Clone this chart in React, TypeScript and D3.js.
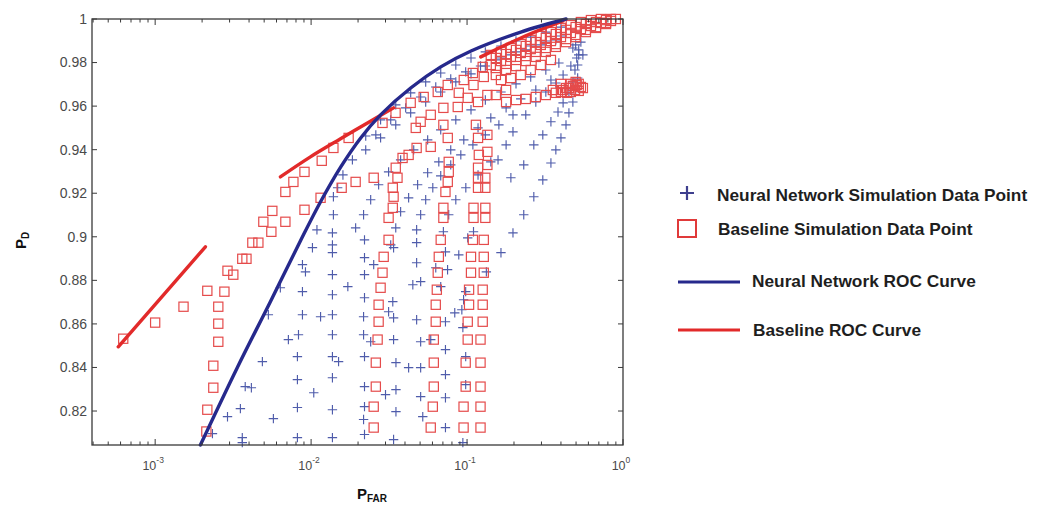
import React from "react";
import * as d3 from "d3";

// ---------- data ----------
const yTickValues = [0.82, 0.84, 0.86, 0.88, 0.9, 0.92, 0.94, 0.96, 0.98, 1];
const yTickLabels = ["0.82", "0.84", "0.86", "0.88", "0.9", "0.92", "0.94", "0.96", "0.98", "1"];
const xTickValues = [1e-3, 1e-2, 1e-1, 1];
const xTickExponents = ["-3", "-2", "-1", "0"];

const legendLabels = [
  "Neural Network Simulation Data Point",
  "Baseline Simulation Data Point",
  "Neural Network ROC Curve",
  "Baseline ROC Curve",
];

// Neural network ROC curve [PFAR, PD]
const nnRocCurve: [number, number][] = [
  [1.95e-3, 0.8044], [3.36e-3, 0.8399], [5.48e-3, 0.8702], [8.55e-3, 0.8982],
  [0.0115, 0.9161], [0.0155, 0.9321], [0.0208, 0.9454], [0.0279, 0.956],
  [0.0435, 0.9683], [0.0678, 0.978], [0.106, 0.9853], [0.221, 0.994], [0.431, 1.0],
];

// Baseline ROC curve (three pieces)
const baseRocPart1: [number, number][] = [[5.8e-4, 0.8495], [2.1e-3, 0.8954]];
const baseRocPart2: [number, number][] = [
  [6.35e-3, 0.9275], [9.9e-3, 0.9367], [0.01545, 0.945], [0.0224, 0.9518], [0.0338, 0.9592],
];
const baseRocPart3: [number, number][] = [[0.1225, 0.9826], [0.2213, 0.9913], [0.412, 0.9991]];

// Neural network simulation data points [PFAR, PD]
const nnSimPoints: [number, number][] = [
  [2.33e-3, 0.8096], [2.91e-3, 0.8174], [3.52e-3, 0.8211], [3.62e-3, 0.8078], [3.62e-3, 0.8055],
  [3.78e-3, 0.8312], [4.14e-3, 0.8307], [4.87e-3, 0.8427], [5.32e-3, 0.8642], [5.73e-3, 0.8165],
  [6.35e-3, 0.8766], [7.15e-3, 0.8528], [8.3e-3, 0.855], [8.17e-3, 0.845], [8.17e-3, 0.8344],
  [8.17e-3, 0.8216], [8.17e-3, 0.8078], [8.8e-3, 0.8872], [9.2e-3, 0.8839], [8.8e-3, 0.8748],
  [8.8e-3, 0.8642], [0.0102, 0.895], [0.0104, 0.8284], [0.0109, 0.9032], [0.0115, 0.8633],
  [0.0137, 0.9018], [0.0137, 0.8963], [0.0137, 0.8927], [0.0137, 0.8826], [0.0137, 0.8734],
  [0.0137, 0.8642], [0.0137, 0.855], [0.0137, 0.845], [0.0137, 0.8353], [0.0137, 0.8206],
  [0.0137, 0.8078], [0.015, 0.8427], [0.0172, 0.8771],
  [0.0193, 0.9041], [0.022, 0.8986], [0.0324, 0.8963], [0.0338, 0.895], [0.0475, 0.9032],
  [0.0475, 0.8973], [0.0705, 0.9023], [0.0727, 0.8931], [0.0885, 0.8917], [0.101, 0.8995],
  [0.11, 0.9023], [0.022, 0.8904], [0.0252, 0.8872], [0.022, 0.8826], [0.0475, 0.8881],
  [0.063, 0.8858], [0.075, 0.8849], [0.022, 0.872], [0.0334, 0.8702], [0.0314, 0.8656],
  [0.0449, 0.878], [0.0504, 0.8794], [0.0678, 0.8771], [0.098, 0.8748], [0.095, 0.8711],
  [0.0217, 0.8633], [0.0338, 0.8628], [0.0475, 0.8619], [0.0727, 0.861], [0.0834, 0.8651],
  [0.0926, 0.8665], [0.094, 0.8583], [0.0217, 0.855], [0.0241, 0.8518], [0.0338, 0.8528],
  [0.0504, 0.8518], [0.0585, 0.8528], [0.0727, 0.8482], [0.098, 0.845], [0.022, 0.845],
  [0.035, 0.8422], [0.0422, 0.8399], [0.0504, 0.8399], [0.0727, 0.8367], [0.022, 0.8312],
  [0.03, 0.8275], [0.035, 0.8298], [0.0504, 0.8266], [0.0727, 0.8261], [0.098, 0.8321],
  [0.022, 0.822], [0.0217, 0.8161], [0.035, 0.8197], [0.052, 0.8174], [0.0727, 0.8124],
  [0.022, 0.8092], [0.0338, 0.8069], [0.094, 0.8055],
  [0.197, 0.9018], [0.165, 0.8927], [0.133, 0.8839],
  [0.231, 0.9101], [0.268, 0.9184], [0.306, 0.9261], [0.345, 0.9339], [0.371, 0.9399],
  [0.4, 0.9454], [0.431, 0.9514], [0.45, 0.9569], [0.477, 0.9619], [0.497, 0.9674],
  [0.512, 0.9729], [0.512, 0.9789], [0.52, 0.9835],
  [0.191, 0.9271], [0.231, 0.933], [0.268, 0.9422], [0.306, 0.9468], [0.345, 0.9528],
  [0.383, 0.9573], [0.413, 0.9615], [0.45, 0.9661], [0.477, 0.9711], [0.492, 0.9766],
  [0.158, 0.9353], [0.178, 0.9422], [0.197, 0.9482], [0.238, 0.956], [0.276, 0.9619],
  [0.32, 0.9665], [0.371, 0.9706], [0.413, 0.9743], [0.463, 0.9784],
  [0.497, 0.9881], [0.52, 0.9858], [0.537, 0.9894], [0.505, 0.9821], [0.477, 0.9867], [0.553, 0.9835],
  [0.0139, 0.9101], [0.0139, 0.9184], [0.0148, 0.9225], [0.016, 0.9284], [0.0184, 0.9353],
  [0.0224, 0.9399], [0.0279, 0.9454], [0.0349, 0.9514], [0.0435, 0.9569], [0.0543, 0.9619],
  [0.0678, 0.9665], [0.0847, 0.9711], [0.106, 0.9748], [0.131, 0.9784], [0.165, 0.9821],
  [0.206, 0.9849], [0.256, 0.9876], [0.32, 0.9899], [0.4, 0.9922],
  [0.0217, 0.9101], [0.0241, 0.917], [0.0271, 0.9239], [0.0314, 0.9298], [0.0375, 0.9353],
  [0.0455, 0.9399], [0.0559, 0.9445], [0.0678, 0.9491], [0.0847, 0.9537], [0.106, 0.9583],
  [0.131, 0.9628], [0.165, 0.9665], [0.206, 0.9702], [0.256, 0.9734], [0.32, 0.9766], [0.388, 0.9798],
  [0.0349, 0.9041], [0.0375, 0.9115], [0.0422, 0.9179], [0.0482, 0.9239], [0.0559, 0.9294],
  [0.0659, 0.9344], [0.0786, 0.9399], [0.0953, 0.9445], [0.1176, 0.95], [0.142, 0.9546],
  [0.178, 0.9592], [0.221, 0.9633], [0.276, 0.9674], [0.345, 0.972],
  [0.0504, 0.9101], [0.0543, 0.917], [0.0603, 0.9225], [0.0678, 0.928], [0.0786, 0.933],
  [0.0912, 0.9376], [0.109, 0.9422], [0.131, 0.9468], [0.16, 0.9514], [0.197, 0.956],
  [0.0763, 0.9101], [0.0847, 0.917], [0.0982, 0.9225], [0.1176, 0.9284], [0.142, 0.9344],
  [0.0224, 0.9463], [0.0279, 0.9537], [0.0349, 0.9606], [0.0435, 0.9661], [0.0543, 0.9711],
  [0.0678, 0.9752], [0.0847, 0.9789], [0.106, 0.9821], [0.131, 0.9849], [0.165, 0.9876],
  [0.206, 0.9899], [0.256, 0.9917], [0.32, 0.994], [0.4, 0.9963],
  [0.026, 0.9468], [0.0324, 0.9537], [0.0404, 0.9592], [0.0504, 0.9642], [0.063, 0.9688],
  [0.0786, 0.9725], [0.098, 0.9757], [0.122, 0.9784], [0.153, 0.9812], [0.191, 0.9835],
  [0.238, 0.9858], [0.297, 0.9881], [0.371, 0.9904],
];

// Baseline simulation data points [PFAR, PD]
const baseSimPoints: [number, number][] = [
  [6.24e-4, 0.8532], [1.0e-3, 0.8606], [1.52e-3, 0.8679],
  [2.13e-3, 0.8106], [2.16e-3, 0.8206], [2.36e-3, 0.8307], [2.36e-3, 0.8408], [2.54e-3, 0.8518],
  [2.54e-3, 0.8601], [2.54e-3, 0.8679], [2.16e-3, 0.8752], [2.78e-3, 0.8748], [2.91e-3, 0.8844],
  [3.17e-3, 0.8826], [3.62e-3, 0.8899], [3.85e-3, 0.8899], [4.2e-3, 0.8973], [4.59e-3, 0.8973],
  [4.94e-3, 0.9069], [5.56e-3, 0.9023], [5.64e-3, 0.9119], [6.84e-3, 0.9069], [9.07e-3, 0.9124],
  [6.84e-3, 0.9206], [7.7e-3, 0.9252], [9.07e-3, 0.9298], [0.0117, 0.9349], [0.0139, 0.9408],
  [0.0174, 0.9454], [0.0115, 0.9179], [0.0157, 0.9225],
  [0.0193, 0.9252], [0.0252, 0.9271], [0.0287, 0.9523], [0.0348, 0.9569], [0.0435, 0.9615],
  [0.0527, 0.9642], [0.0649, 0.9665], [0.0752, 0.9697], [0.0953, 0.972], [0.109, 0.9752],
  [0.126, 0.978], [0.0885, 0.9661], [0.11, 0.9697], [0.128, 0.9734], [0.101, 0.9638],
  [0.1176, 0.9619], [0.135, 0.9651], [0.0872, 0.9596], [0.0705, 0.9592], [0.0585, 0.956],
  [0.0504, 0.9528], [0.0469, 0.95], [0.0585, 0.9413], [0.0475, 0.9408], [0.0422, 0.9376],
  [0.0386, 0.9362], [0.0349, 0.9317], [0.0358, 0.9271], [0.0334, 0.9225], [0.0338, 0.9184],
  [0.0334, 0.9133], [0.0314, 0.9087],
  [0.0705, 0.9514], [0.0752, 0.9454], [0.0763, 0.9344], [0.0763, 0.9298], [0.0752, 0.9252],
  [0.0727, 0.9206], [0.0705, 0.9133], [0.0705, 0.9087],
  [0.114, 0.9514], [0.1176, 0.9454], [0.119, 0.9376], [0.1176, 0.9317], [0.1176, 0.9271],
  [0.1176, 0.9225], [0.135, 0.9468], [0.135, 0.939], [0.135, 0.933], [0.131, 0.9271],
  [0.131, 0.9225], [0.11, 0.9133], [0.11, 0.9087], [0.131, 0.9133], [0.131, 0.9087],
  [0.0314, 0.8986], [0.0292, 0.8908], [0.0287, 0.8835], [0.0279, 0.8766], [0.0271, 0.8688],
  [0.0271, 0.861], [0.0267, 0.8528], [0.026, 0.8422], [0.026, 0.8312], [0.0252, 0.822], [0.0252, 0.8124],
  [0.0678, 0.8986], [0.0659, 0.8908], [0.0649, 0.8835], [0.064, 0.8757], [0.063, 0.8688],
  [0.063, 0.861], [0.0612, 0.8528], [0.0612, 0.8422], [0.0612, 0.8312], [0.0603, 0.822], [0.0585, 0.8124],
  [0.109, 0.8986], [0.106, 0.8908], [0.106, 0.8835], [0.103, 0.8757], [0.103, 0.8688],
  [0.101, 0.861], [0.101, 0.8528], [0.098, 0.8422], [0.098, 0.8312], [0.095, 0.822], [0.095, 0.8124],
  [0.128, 0.8986], [0.128, 0.8908], [0.128, 0.8835], [0.126, 0.8757], [0.126, 0.8688],
  [0.126, 0.861], [0.122, 0.8528], [0.122, 0.8422], [0.122, 0.8312], [0.122, 0.822], [0.122, 0.8124],
  [0.142, 0.9835], [0.165, 0.9849], [0.191, 0.9867], [0.221, 0.9885], [0.256, 0.9904],
  [0.297, 0.9922], [0.345, 0.994], [0.4, 0.9959], [0.463, 0.9972], [0.537, 0.9986],
  [0.623, 0.9995], [0.722, 1.0], [0.837, 1.0],
  [0.153, 0.9821], [0.178, 0.9839], [0.206, 0.9858], [0.238, 0.9876], [0.276, 0.9894],
  [0.32, 0.9913], [0.371, 0.9931], [0.431, 0.995], [0.497, 0.9963], [0.578, 0.9977],
  [0.671, 0.9986], [0.778, 0.9995], [0.9, 1.0],
  [0.142, 0.9789], [0.165, 0.9807], [0.191, 0.9826], [0.221, 0.9844], [0.256, 0.9862],
  [0.297, 0.9881], [0.345, 0.9899], [0.4, 0.9917], [0.463, 0.9936], [0.537, 0.9954],
  [0.623, 0.9968], [0.722, 0.9982], [0.837, 0.9991],
  [0.153, 0.9775], [0.178, 0.9794], [0.206, 0.9812], [0.238, 0.983], [0.276, 0.9849],
  [0.32, 0.9867], [0.371, 0.9885], [0.431, 0.9908], [0.497, 0.9927], [0.578, 0.995],
  [0.671, 0.9963], [0.778, 0.9982],
  [0.153, 0.9743], [0.178, 0.9766], [0.206, 0.9784], [0.238, 0.9807], [0.276, 0.9826],
  [0.32, 0.9849], [0.371, 0.9872], [0.431, 0.9894], [0.497, 0.9917], [0.578, 0.994],
  [0.671, 0.9959], [0.778, 0.9977],
  [0.178, 0.9619], [0.206, 0.9628], [0.238, 0.9633], [0.276, 0.9642], [0.32, 0.9651],
  [0.371, 0.9661], [0.413, 0.9674], [0.45, 0.9683], [0.477, 0.9693], [0.505, 0.9697],
  [0.537, 0.9688], [0.52, 0.967], [0.463, 0.9665], [0.497, 0.9711],
  [0.4, 0.9702], [0.431, 0.9683], [0.463, 0.9702], [0.492, 0.9674], [0.52, 0.9702],
  [0.553, 0.9683], [0.438, 0.9661], [0.4, 0.9665], [0.355, 0.9674],
  [0.165, 0.972], [0.191, 0.9729], [0.221, 0.9743], [0.256, 0.9766], [0.297, 0.9789],
  [0.345, 0.9812], [0.178, 0.9674], [0.153, 0.9651],
];

// ---------- layout ----------
const W = 1045;
const H = 509;
const L = 92, R = 623, T = 19, B = 445;
const FONT = "'Liberation Sans', Arial, Helvetica, sans-serif";
const BLUE_LINE = "#26298c";
const RED_LINE = "#e22a2a";
const BLUE_MARK = "#4f5cab";
const RED_MARK = "#e54b4b";
const AXIS = "#3a3a3a";
const TICK_TEXT = "#4a4a4a";

export default function App() {
  const x = d3.scaleLog().domain([Math.pow(10, -3.405), 1]).range([L, R]);
  const y = d3.scaleLinear().domain([0.8044, 1]).range([B, T]);
  const line = d3
    .line<[number, number]>()
    .x((d) => x(d[0]))
    .y((d) => y(d[1]))
    .curve(d3.curveCatmullRom.alpha(0.5));

  const minorTicks: number[] = [];
  for (let e = -4; e < 0; e++) {
    for (let m = 2; m <= 9; m++) {
      const v = m * Math.pow(10, e);
      if (v >= x.domain()[0] && v <= 1) minorTicks.push(v);
    }
  }

  const ps = 4.7; // plus half size
  const sq = 4.6; // square half size

  return (
    <svg
      width={W}
      height={H}
      style={{ position: "absolute", left: 0, top: 0, background: "#fff" }}
      fontFamily={FONT}
    >
      <rect x={0} y={0} width={W} height={H} fill="#fff" />

      {/* scatter: neural network */}
      <g stroke={BLUE_MARK} strokeWidth={1.15} fill="none">
        {nnSimPoints.map((d, i) => {
          const cx = x(d[0]);
          const cy = y(d[1]);
          return (
            <path key={i} d={`M${cx - ps},${cy}H${cx + ps}M${cx},${cy - ps}V${cy + ps}`} />
          );
        })}
      </g>

      {/* scatter: baseline */}
      <g stroke={RED_MARK} strokeWidth={1.2} fill="none">
        {baseSimPoints.map((d, i) => (
          <rect key={i} x={x(d[0]) - sq} y={y(d[1]) - sq} width={2 * sq} height={2 * sq} />
        ))}
      </g>

      {/* ROC curves */}
      <g fill="none" strokeLinecap="round">
        {[baseRocPart1, baseRocPart2, baseRocPart3].map((p, i) => (
          <path key={i} d={line(p) || ""} stroke={RED_LINE} strokeWidth={3.4} />
        ))}
        <path d={line(nnRocCurve) || ""} stroke={BLUE_LINE} strokeWidth={3.4} />
      </g>

      {/* axes box */}
      <rect x={L} y={T} width={R - L} height={B - T} fill="none" stroke={AXIS} strokeWidth={1.3} />

      {/* x ticks */}
      <g stroke={AXIS} strokeWidth={1}>
        {xTickValues.map((v, i) => (
          <g key={i}>
            <line x1={x(v)} x2={x(v)} y1={B} y2={B - 6} />
            <line x1={x(v)} x2={x(v)} y1={T} y2={T + 6} />
          </g>
        ))}
        {minorTicks.map((v, i) => (
          <g key={"m" + i}>
            <line x1={x(v)} x2={x(v)} y1={B} y2={B - 3.5} />
            <line x1={x(v)} x2={x(v)} y1={T} y2={T + 3.5} />
          </g>
        ))}
        {yTickValues.map((v, i) => (
          <g key={"y" + i}>
            <line x1={L} x2={L + 5} y1={y(v)} y2={y(v)} />
            <line x1={R} x2={R - 5} y1={y(v)} y2={y(v)} />
          </g>
        ))}
      </g>

      {/* tick labels */}
      <g fill={TICK_TEXT}>
        {yTickValues.map((v, i) => (
          <text key={i} x={L - 5} y={y(v)} dy="0.35em" textAnchor="end" fontSize={14}>
            {yTickLabels[i]}
          </text>
        ))}
        {xTickValues.map((v, i) => (
          <text key={"x" + i} x={x(v) - 2} y={470} textAnchor="middle" fontSize={12.5}>
            10
            <tspan dy={-7} fontSize={8.5}>
              {xTickExponents[i]}
            </tspan>
          </text>
        ))}
      </g>

      {/* axis labels */}
      <text x={357} y={499} fontSize={15} fontWeight="bold" fill="#111">
        P
        <tspan fontSize={10} dy={3}>
          FAR
        </tspan>
      </text>
      <text
        transform="translate(26,249) rotate(-90)"
        fontSize={15}
        fontWeight="bold"
        fill="#111"
      >
        P
        <tspan fontSize={10} dy={3}>
          D
        </tspan>
      </text>

      {/* legend */}
      <g fill="#1e1e1e" fontWeight="bold" fontSize={17.3}>
        <path
          d={`M680,193H694M687,186V200`}
          stroke="#3e3f8e"
          strokeWidth={2.2}
          fill="none"
        />
        <text x={717} y={195} dy="0.35em">{legendLabels[0]}</text>
        <rect x={678} y={220} width={18} height={17} fill="none" stroke="#e03a3a" strokeWidth={2} />
        <text x={718} y={229} dy="0.35em">{legendLabels[1]}</text>
        <line x1={678} x2={740} y1={282} y2={282} stroke={BLUE_LINE} strokeWidth={3} />
        <text x={752} y={281} dy="0.35em">{legendLabels[2]}</text>
        <line x1={678} x2={740} y1={330} y2={330} stroke={RED_LINE} strokeWidth={3} />
        <text x={753} y={330} dy="0.35em">{legendLabels[3]}</text>
      </g>
    </svg>
  );
}
